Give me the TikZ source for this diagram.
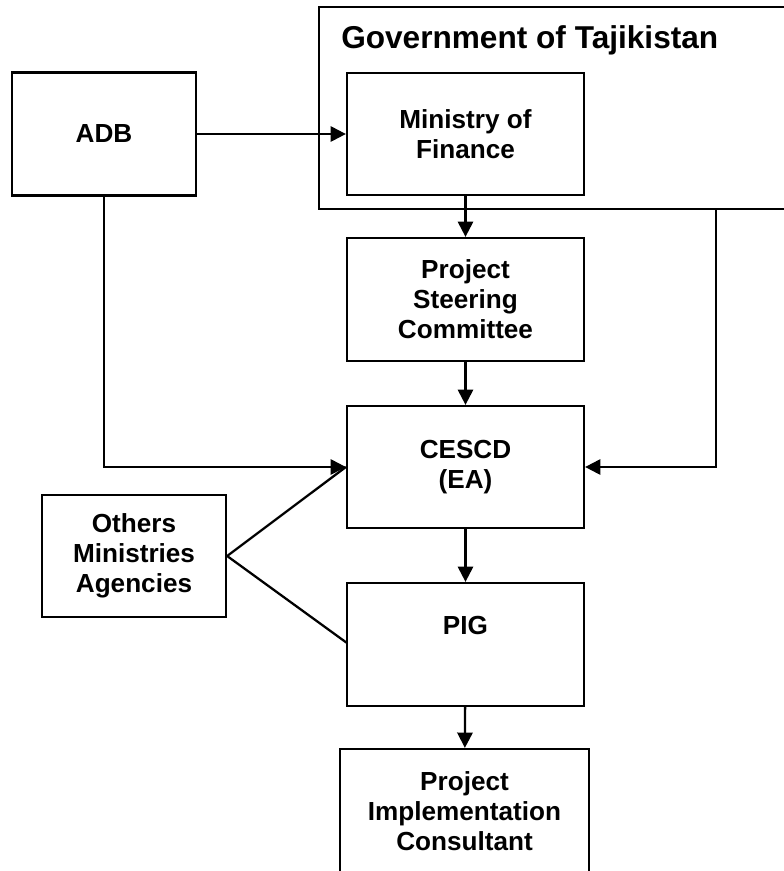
\documentclass[tikz,border=0pt]{standalone}
\usepackage{fontspec}
\setmainfont{Liberation Sans}
\usetikzlibrary{arrows.meta}

\begin{document}
\begin{tikzpicture}[x=0.75pt, y=-0.75pt,
    box/.style={draw, line width=1.7pt, align=center, inner sep=0pt,
        font=\bfseries\fontsize{19.6}{22.5}\selectfont},
    arr/.style={-{Triangle[length=11.5pt, width=11.5pt]}, line width=1.7pt}]
    \useasboundingbox (0,0) rectangle (784,871);
    \clip (0,0) rectangle (784,871);

    % government frame
    \node[box, minimum width=353.25pt, minimum height=151.5pt] (gov) at (554.5,108) {};
    \node[anchor=base west, inner sep=0pt, font=\bfseries\fontsize{23.7}{27}\selectfont] (govtitle) at (341,48) {Government of Tajikistan};

    \node[box, minimum width=138pt, minimum height=92.25pt] (adb) at (104,134) {ADB};
    \node[box, minimum width=177.75pt, minimum height=91.5pt] (mof) at (465.5,134) {Ministry of\\Finance};
    \node[box, minimum width=177.75pt, minimum height=92.25pt] (psc) at (465.5,299.5) {Project\\Steering\\Committee};
    \node[box, minimum width=177.75pt, minimum height=91.5pt] (cescd) at (465.5,467) {CESCD\\(EA)};
    \node[box, minimum width=177.75pt, minimum height=92.25pt] (pig) at (465.5,644.5) {PIG\\\strut};
    \node[box, minimum width=186.75pt, minimum height=93pt] (pic) at (464.5,811) {Project\\Implementation\\Consultant};
    \node[box, minimum width=138pt, minimum height=91.5pt] (others) at (134,556) {Others\\Ministries\\Agencies};

    \coordinate (govdrop) at (716,209);
    \coordinate (pigin) at (347,643);

    % chain down the middle
    \draw[arr] (adb) -- (mof);
    \draw[arr] (mof) -- (psc);
    \draw[arr] (psc) -- (cescd);
    \draw[arr] (cescd) -- (pig);
    \draw[arr] (pig) -- (pic);

    \draw[arr] (adb) |- (cescd);
    \draw[arr] (govdrop) |- (cescd);

    \draw[line width=1.7pt] (others.east) -- (cescd.west);
    \draw[line width=1.7pt] (others.east) -- (pigin);
\end{tikzpicture}
\end{document}
